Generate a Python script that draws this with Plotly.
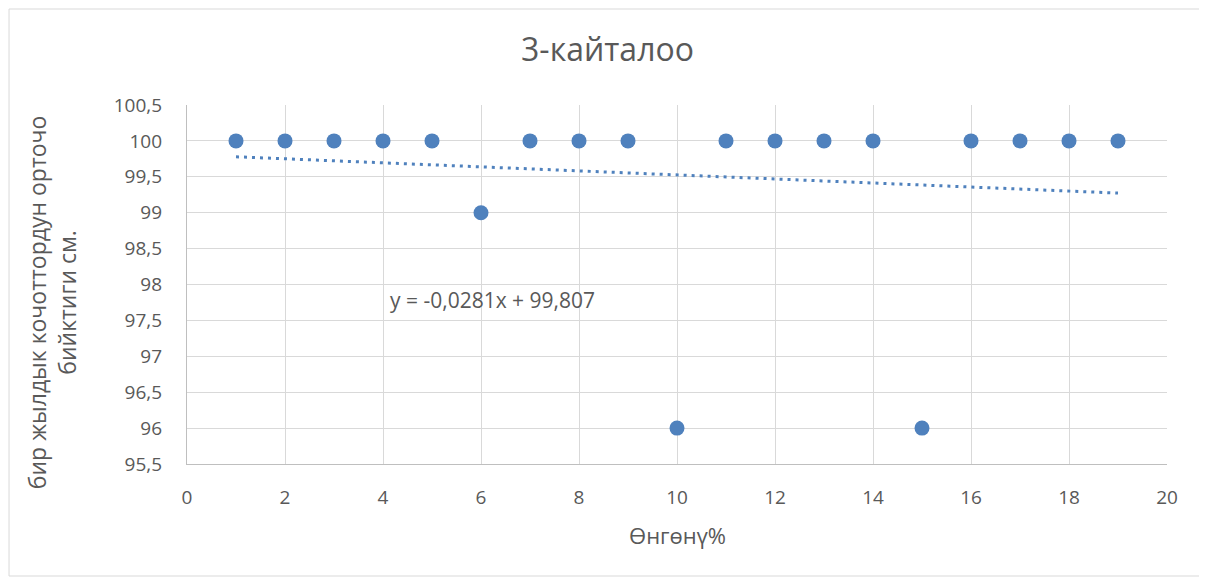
import plotly.graph_objects as go

x_vals = list(range(1, 20))
y_vals = [100, 100, 100, 100, 100, 99, 100, 100, 100, 96,
          100, 100, 100, 100, 96, 100, 100, 100, 100]
trend_slope = -0.0281
trend_intercept = 99.807
trend_x = [1, 19]
trend_y = [trend_slope * v + trend_intercept for v in trend_x]
x_ticks = list(range(0, 21, 2))
y_ticks = [95.5, 96, 96.5, 97, 97.5, 98, 98.5, 99, 99.5, 100, 100.5]
y_ticklabels = ["95,5", "96", "96,5", "97", "97,5", "98", "98,5", "99", "99,5", "100", "100,5"]

FONT = "Open Sans"
TXT = "#595959"
BLUE = "#4F81BD"

fig = go.Figure()
fig.add_trace(go.Scatter(x=trend_x, y=trend_y, mode="lines",
                         line=dict(color=BLUE, width=3, dash="3px,5px"),
                         hoverinfo="skip", showlegend=False))
fig.add_trace(go.Scatter(x=x_vals, y=y_vals, mode="markers",
                         marker=dict(color=BLUE, size=15, line=dict(width=0)),
                         showlegend=False))

fig.add_annotation(x=4.1, y=97.78, xref="x", yref="y", text="y = -0,0281x + 99,807",
                   showarrow=False, xanchor="left", yanchor="middle",
                   font=dict(family=FONT, size=21, color=TXT))

fig.add_annotation(x=-0.137, y=0.45, xref="paper", yref="paper",
                   text="бир жылдык кочоттордун орточо<br>бийктиги см.",
                   textangle=-90, showarrow=False, xanchor="center", yanchor="middle",
                   font=dict(family=FONT, size=23, color=TXT))
fig.add_annotation(x=0.5, y=-0.198, xref="paper", yref="paper",
                   text="Өнгөнү%", showarrow=False, xanchor="center", yanchor="middle",
                   font=dict(family=FONT, size=22, color=TXT))

fig.add_shape(type="rect", xref="paper", yref="paper",
              x0=-0.1816, x1=1.0365, y0=-0.312, y1=1.2674,
              line=dict(color="#d9d9d9", width=1), fillcolor="rgba(0,0,0,0)", layer="below")

fig.update_layout(
    width=1199, height=572,
    margin=dict(l=179, r=40, t=97, b=116),
    paper_bgcolor="white", plot_bgcolor="white",
    title=dict(text="3-кайталоо", x=0.5, xanchor="center", y=0.9266, yanchor="middle",
               font=dict(family=FONT, size=32, color=TXT)),
    font=dict(family=FONT, color=TXT),
    xaxis=dict(range=[0, 20], tickvals=x_ticks, showgrid=True, gridcolor="#d9d9d9", gridwidth=1.3,
               zeroline=False, showline=True, linecolor="#bfbfbf", linewidth=1.3,
               ticks="", ticklabelstandoff=16, tickfont=dict(family=FONT, size=19, color=TXT)),
    yaxis=dict(range=[95.5, 100.5], tickvals=y_ticks, ticktext=y_ticklabels,
               showgrid=True, gridcolor="#d9d9d9", gridwidth=1.3,
               zeroline=False, showline=True, linecolor="#bfbfbf", linewidth=1.3,
               ticks="", ticklabelstandoff=20, tickfont=dict(family=FONT, size=19, color=TXT)),
)

fig.write_html("out.html")
